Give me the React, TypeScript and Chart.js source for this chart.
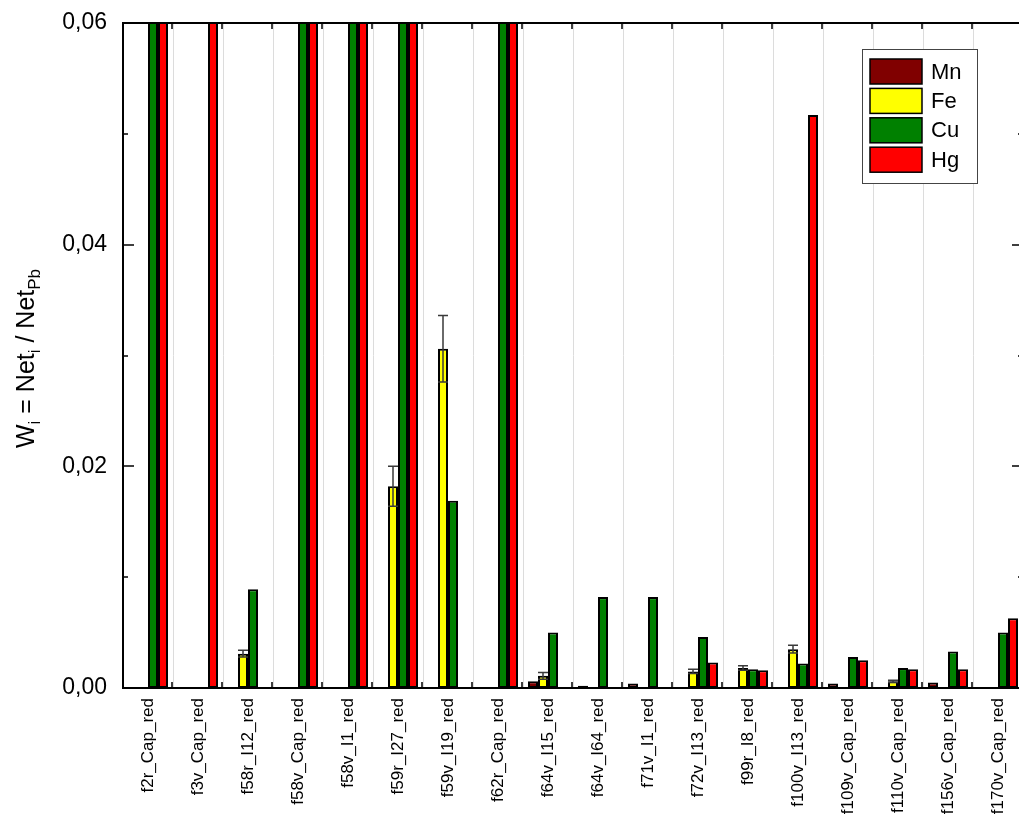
import React, { useEffect, useRef } from "react";
import { Chart, registerables } from "chart.js";

Chart.register(...registerables);

// Samples along the x axis
const categories = [
  "f2r_Cap_red", "f3v_Cap_red", "f58r_I12_red", "f58v_Cap_red", "f58v_I1_red",
  "f59r_I27_red", "f59v_I19_red", "f62r_Cap_red", "f64v_I15_red", "f64v_I64_red",
  "f71v_I1_red", "f72v_I13_red", "f99r_I8_red", "f100v_I13_red", "f109v_Cap_red",
  "f110v_Cap_red", "f156v_Cap_red", "f170v_Cap_red",
];

// W_i ratios per element (values above 0.06 run off the top of the axis)
const mnValues = [null, null, null, null, null, null, null, null, 0.0006, 0.0002, 0.0004, null, null, null, 0.0004, null, 0.0005, null];
const feValues = [null, null, 0.0031, null, null, 0.0182, 0.0306, null, 0.0011, null, null, 0.0015, 0.0018, 0.0035, null, 0.0006, null, null];
const cuValues = [0.095, null, 0.0089, 0.11, 0.085, 0.12, 0.0169, 0.1, 0.0050, 0.0082, 0.0082, 0.0046, 0.0017, 0.0022, 0.0028, 0.0018, 0.0033, 0.0050];
const hgValues = [0.09, 0.08, null, 0.1, 0.075, 0.11, null, 0.09, null, null, null, 0.0023, 0.0016, 0.0517, 0.0025, 0.0017, 0.0017, 0.0063];

// Uncertainty on the Fe ratios
const feErrors = [null, null, 0.0003, null, null, 0.0018, 0.003, null, 0.0003, null, null, 0.0002, 0.0002, 0.00035, null, 0.0001, null, null];

const seriesNames = ["Mn", "Fe", "Cu", "Hg"];
const seriesColors = ["#800000", "#ffff00", "#008000", "#ff0000"];

const yMin = 0;
const yMax = 0.06;
const yStep = 0.01;

const FONT = "'Liberation Sans', Arial, sans-serif";

// Closed frame with inward tick marks on all four sides
const framePlugin = {
  id: "frame",
  afterDraw(chart: any) {
    const { ctx, chartArea: a } = chart;
    const xs = chart.scales.x;
    const ys = chart.scales.y;
    ctx.save();
    ctx.strokeStyle = "#000";
    ctx.lineWidth = 2;
    ctx.strokeRect(a.left, a.top, a.right - a.left, a.bottom - a.top);

    ctx.lineWidth = 1.5;
    ctx.beginPath();
    for (let i = 1; i < categories.length; i++) {
      const x = Math.round((xs.getPixelForValue(i - 1) + xs.getPixelForValue(i)) / 2) - 1;
      ctx.moveTo(x, a.bottom);
      ctx.lineTo(x, a.bottom - 6);
      ctx.moveTo(x, a.top);
      ctx.lineTo(x, a.top + 6);
    }
    ys.ticks.forEach((t: any) => {
      const y = Math.round(ys.getPixelForValue(t.value));
      const major = Math.round(t.value * 100) % 2 === 0;
      const len = major ? 11 : 5;
      ctx.moveTo(a.left, y);
      ctx.lineTo(a.left + len, y);
      ctx.moveTo(a.right, y);
      ctx.lineTo(a.right - len, y);
    });
    ctx.stroke();
    ctx.restore();
  },
};

// Symmetric error bars on the Fe columns
const errorBarPlugin = {
  id: "errorBars",
  afterDatasetsDraw(chart: any) {
    const { ctx } = chart;
    const ys = chart.scales.y;
    const meta = chart.getDatasetMeta(1);
    ctx.save();
    ctx.strokeStyle = "#3a3a3a";
    ctx.lineWidth = 1.5;
    meta.data.forEach((bar: any, i: number) => {
      const v = feValues[i];
      const e = feErrors[i];
      if (v == null || e == null) return;
      const yTop = ys.getPixelForValue(v + e);
      const yBot = ys.getPixelForValue(v - e);
      const half = bar.width / 2;
      ctx.beginPath();
      ctx.moveTo(bar.x, yTop);
      ctx.lineTo(bar.x, yBot);
      ctx.moveTo(bar.x - half, yTop);
      ctx.lineTo(bar.x + half, yTop);
      ctx.moveTo(bar.x - half, yBot);
      ctx.lineTo(bar.x + half, yBot);
      ctx.stroke();
    });
    ctx.restore();
  },
};

// Y-axis title with subscripts: W_i = Net_i / Net_Pb
const yTitlePlugin = {
  id: "yTitle",
  afterDraw(chart: any) {
    const { ctx, chartArea: a } = chart;
    const big = `25px ${FONT}`;
    const small = `17px ${FONT}`;
    const parts: [string, boolean][] = [
      ["W", false], ["i", true], [" = Net", false], ["i", true], [" / Net", false], ["Pb", true],
    ];
    ctx.save();
    let total = 0;
    const widths = parts.map(([s, sub]) => {
      ctx.font = sub ? small : big;
      const w = ctx.measureText(s).width;
      total += w;
      return w;
    });
    ctx.translate(34, (a.top + a.bottom) / 2 + 3);
    ctx.rotate(-Math.PI / 2);
    ctx.fillStyle = "#000";
    ctx.textBaseline = "alphabetic";
    ctx.textAlign = "left";
    let x = -total / 2;
    parts.forEach(([s, sub], i) => {
      ctx.font = sub ? small : big;
      ctx.fillText(s, x, sub ? 6 : 0);
      x += widths[i];
    });
    ctx.restore();
  },
};

// Boxed legend inside the plot, upper right
const legendPlugin = {
  id: "boxLegend",
  afterDraw(chart: any) {
    const { ctx } = chart;
    const bx = 862, by = 49, bw = 115, bh = 134;
    ctx.save();
    ctx.fillStyle = "#fff";
    ctx.fillRect(bx, by, bw, bh);
    ctx.strokeStyle = "#444";
    ctx.lineWidth = 1;
    ctx.strokeRect(bx + 0.5, by + 0.5, bw, bh);
    chart.data.datasets.forEach((ds: any, i: number) => {
      const sy = by + 10 + i * 29.4;
      ctx.fillStyle = ds.backgroundColor;
      ctx.fillRect(bx + 8, sy, 52, 25);
      ctx.strokeStyle = "#000";
      ctx.lineWidth = 1.5;
      ctx.strokeRect(bx + 8, sy, 52, 25);
      ctx.fillStyle = "#000";
      ctx.font = `22px ${FONT}`;
      ctx.textBaseline = "middle";
      ctx.fillText(ds.label, bx + 69, sy + 13.5);
    });
    ctx.restore();
  },
};

export default function App() {
  const canvasRef = useRef<HTMLCanvasElement | null>(null);

  useEffect(() => {
    if (!canvasRef.current) return;
    const seriesValues = [mnValues, feValues, cuValues, hgValues];
    const chart = new Chart(canvasRef.current, {
      type: "bar",
      data: {
        labels: categories,
        datasets: seriesNames.map((name, i) => ({
          label: name,
          data: seriesValues[i] as any,
          backgroundColor: seriesColors[i],
          borderColor: "#000",
          borderWidth: 2,
          borderSkipped: false,
          categoryPercentage: 0.8,
          barPercentage: 1.0,
        })),
      },
      options: {
        responsive: false,
        animation: false,
        devicePixelRatio: 1,
        layout: { padding: { top: 23, right: 17, left: 0, bottom: 0 } },
        plugins: {
          legend: { display: false },
          tooltip: { enabled: false },
        },
        scales: {
          x: {
            grid: {
              display: true,
              offset: true,
              color: "#dcdcdc",
              lineWidth: 1,
              drawTicks: false,
            },
            border: { display: false },
            ticks: {
              autoSkip: false,
              maxRotation: 90,
              minRotation: 90,
              padding: 10,
              color: "#000",
              font: { family: FONT, size: 17 },
            },
            afterFit(scale: any) {
              scale.height = 134;
              scale.paddingLeft = 0;
              scale.paddingRight = 0;
            },
          },
          y: {
            min: yMin,
            max: yMax,
            grid: { display: false, drawTicks: false },
            border: { display: false },
            ticks: {
              stepSize: yStep,
              padding: 16,
              color: "#000",
              font: { family: FONT, size: 23 },
              callback: (v: any) => {
                const n = Math.round(Number(v) * 100);
                return n % 2 === 0 ? (n / 100).toFixed(2).replace(".", ",") : "";
              },
            },
            afterFit(scale: any) {
              scale.width = 123;
              scale.paddingTop = 0;
              scale.paddingBottom = 0;
            },
          },
        },
      },
      plugins: [errorBarPlugin, framePlugin, legendPlugin, yTitlePlugin],
    });
    return () => chart.destroy();
  }, []);

  return (
    <div
      style={{
        position: "fixed",
        left: 0,
        top: 0,
        width: "100vw",
        height: "100vh",
        overflow: "hidden",
        background: "#fff",
      }}
    >
      <canvas
        ref={canvasRef}
        width={1040}
        height={822}
        style={{ display: "block", width: 1040, height: 822 }}
      />
    </div>
  );
}
